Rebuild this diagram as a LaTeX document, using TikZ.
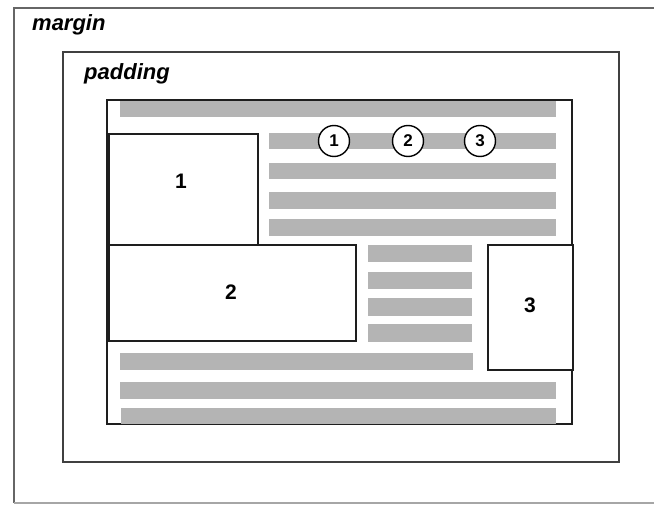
\documentclass[tikz,border=0pt]{standalone}
\usepackage{fontspec}
\setmainfont{Liberation Sans}
\begin{document}
\begin{tikzpicture}[x=1pt,y=-1pt,
  bar/.style={fill=barg, draw=none},
  boxline/.style={draw=boxk, line width=2pt},
  lbl/.style={font=\fontsize{21}{23}\selectfont\bfseries, inner sep=0pt},
  ital/.style={font=\fontsize{22}{24}\selectfont\bfseries\itshape, inner sep=0pt, anchor=base west},
  circ/.style={circle, draw=black, fill=white, line width=1.4pt, minimum size=31pt, inner sep=0pt, font=\fontsize{17}{19}\selectfont\bfseries}
]
\definecolor{barg}{RGB}{180,180,180}
\definecolor{boxk}{RGB}{30,30,30}
\useasboundingbox (0,0) rectangle (654,505);
\fill[white] (0,0) rectangle (654,505);
% margin box (only top, left, bottom visible)
\draw[draw=black!60, line width=2.4pt] (660,8) -- (14,8) -- (14,503);
\draw[draw=black!35, line width=1.4pt] (14,503) -- (660,503);
\node[ital] (margin) at (32,31) {margin};
% padding box
\draw[draw=black!75, line width=2.4pt] (63,52) rectangle (619,462);
\node[ital] (padding) at (84,80) {padding};
% content box
\draw[boxline] (107,100) rectangle (572,424);
% bars
\fill[bar] (120,101) rectangle (556,117);
\fill[bar] (269,133) rectangle (556,149);
\fill[bar] (269,163) rectangle (556,179);
\fill[bar] (269,192) rectangle (556,209);
\fill[bar] (269,219) rectangle (556,236);
\fill[bar] (368,245) rectangle (472,262);
\fill[bar] (368,272) rectangle (472,289);
\fill[bar] (368,298) rectangle (472,316);
\fill[bar] (368,324) rectangle (472,342);
\fill[bar] (120,353) rectangle (473,370);
\fill[bar] (120,382) rectangle (556,399);
\fill[bar] (121,408) rectangle (556,424);
% boxes
\node[boxline, fill=white, anchor=north west, minimum width=149pt, minimum height=111pt, inner sep=0pt] (b1) at (108,133) {};
\node[boxline, fill=white, anchor=north west, minimum width=247pt, minimum height=96pt, inner sep=0pt] (b2) at (108,244) {};
\node[boxline, fill=white, anchor=north west, minimum width=85pt, minimum height=125pt, inner sep=0pt] (b3) at (487,244) {};
\node[lbl] (t1) at (181,181) {1};
\node[lbl] (t2) at (231,292) {2};
\node[lbl] (t3) at (530,305) {3};
% circled numbers
\node[circ] (c1) at (334,141) {1};
\node[circ] (c2) at (408,141) {2};
\node[circ] (c3) at (480,141) {3};
\end{tikzpicture}
\end{document}
